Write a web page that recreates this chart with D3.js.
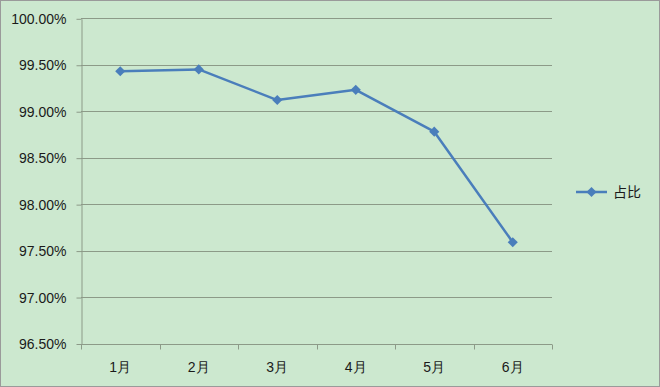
<!DOCTYPE html>
<html>
<head>
<meta charset="utf-8">
<script src="https://cdn.jsdelivr.net/npm/d3@7"></script>
<style>
  body { margin: 0; background: #fff; }
  text { font-family: "Liberation Sans", Arial, sans-serif; fill: #1a1a1a; }
</style>
</head>
<body>
<div id="chart"></div>
<script>
var width = 660
var height = 387

// data
var months = ["1月", "2月", "3月", "4月", "5月", "6月"]
var shares = [0.9943, 0.9945, 0.9912, 0.9923, 0.9878, 0.9759]
var yTicks = [0.965, 0.97, 0.975, 0.98, 0.985, 0.99, 0.995, 1.0]
var seriesName = "占比"

var plotLeft = 81, plotRight = 552, plotTop = 18.3, plotBottom = 343.5

var svg = d3.select("#chart")
    .append("svg")
        .attr("width", width)
        .attr("height", height)

svg.append("rect")
    .attr("x", 0.5).attr("y", 0.5)
    .attr("width", width - 1).attr("height", height - 1)
    .attr("fill", "#cce8cf")
    .attr("stroke", "#9a9a9a")

var x = d3.scaleBand().domain(months).range([plotLeft, plotRight])
var y = d3.scaleLinear().domain([0.965, 1.0]).range([plotBottom, plotTop])

// gridlines
svg.append("g")
    .selectAll("line")
    .data(yTicks.slice(1))
    .enter()
    .append("line")
        .attr("x1", plotLeft).attr("x2", plotRight)
        .attr("y1", function(d){ return Math.round(y(d)) + 0.5 })
        .attr("y2", function(d){ return Math.round(y(d)) + 0.5 })
        .attr("stroke", "#8c9a88")

// y axis
var yAxis = svg.append("g")
    .attr("transform", "translate(" + (plotLeft + 0.5) + ",0.5)")
    .call(d3.axisLeft(y).tickValues(yTicks).tickSize(5).tickSizeOuter(0)
        .tickFormat(d3.format(".2%")))
yAxis.selectAll("line, path").attr("stroke", "#8c9a88")
yAxis.selectAll("text")
    .attr("font-size", "14px")
    .attr("dx", "-7px")
    .style("font-family", "'Liberation Sans', Arial, sans-serif")
    .attr("fill", "#1a1a1a")

// x axis with ticks at category boundaries
var xAxis = svg.append("g")
    .attr("transform", "translate(0," + (Math.round(plotBottom) + 0.5) + ")")
xAxis.append("line")
    .attr("x1", plotLeft).attr("x2", plotRight)
    .attr("stroke", "#8c9a88")
var bounds = months.map(function(m){ return x(m) }).concat([plotRight])
xAxis.selectAll("line.tk")
    .data(bounds)
    .enter()
    .append("line")
        .attr("class", "tk")
        .attr("x1", function(d){ return Math.round(d) + 0.5 })
        .attr("x2", function(d){ return Math.round(d) + 0.5 })
        .attr("y1", 0).attr("y2", 5)
        .attr("stroke", "#8c9a88")
xAxis.selectAll("text")
    .data(months)
    .enter()
    .append("text")
        .attr("x", function(d){ return x(d) + x.bandwidth() / 2 })
        .attr("y", 27)
        .attr("text-anchor", "middle")
        .attr("font-size", "14px")
        .text(function(d){ return d })

// line
var pts = months.map(function(m, i){ return [x(m) + x.bandwidth() / 2, y(shares[i])] })
svg.append("path")
    .attr("d", d3.line()(pts))
    .attr("fill", "none")
    .attr("stroke", "#4a7ebb")
    .attr("stroke-width", 2.5)
    .attr("stroke-linejoin", "round")

var diamond = d3.symbol().type(d3.symbolDiamond2).size(65)
svg.append("g")
    .selectAll("path")
    .data(pts)
    .enter()
    .append("path")
        .attr("d", diamond)
        .attr("transform", function(d){ return "translate(" + d[0] + "," + d[1] + ")" })
        .attr("fill", "#4a7ebb")

// legend
var lg = svg.append("g").attr("transform", "translate(576,192)")
lg.append("line")
    .attr("x1", 0).attr("x2", 31)
    .attr("stroke", "#4a7ebb").attr("stroke-width", 2.5)
lg.append("path")
    .attr("d", diamond)
    .attr("transform", "translate(15.5,0)")
    .attr("fill", "#4a7ebb")
lg.append("text")
    .attr("x", 37).attr("y", 5)
    .attr("font-size", "14px")
    .style("font-family", "'Noto Sans CJK SC', sans-serif")
    .text(seriesName)
</script>
</body>
</html>
